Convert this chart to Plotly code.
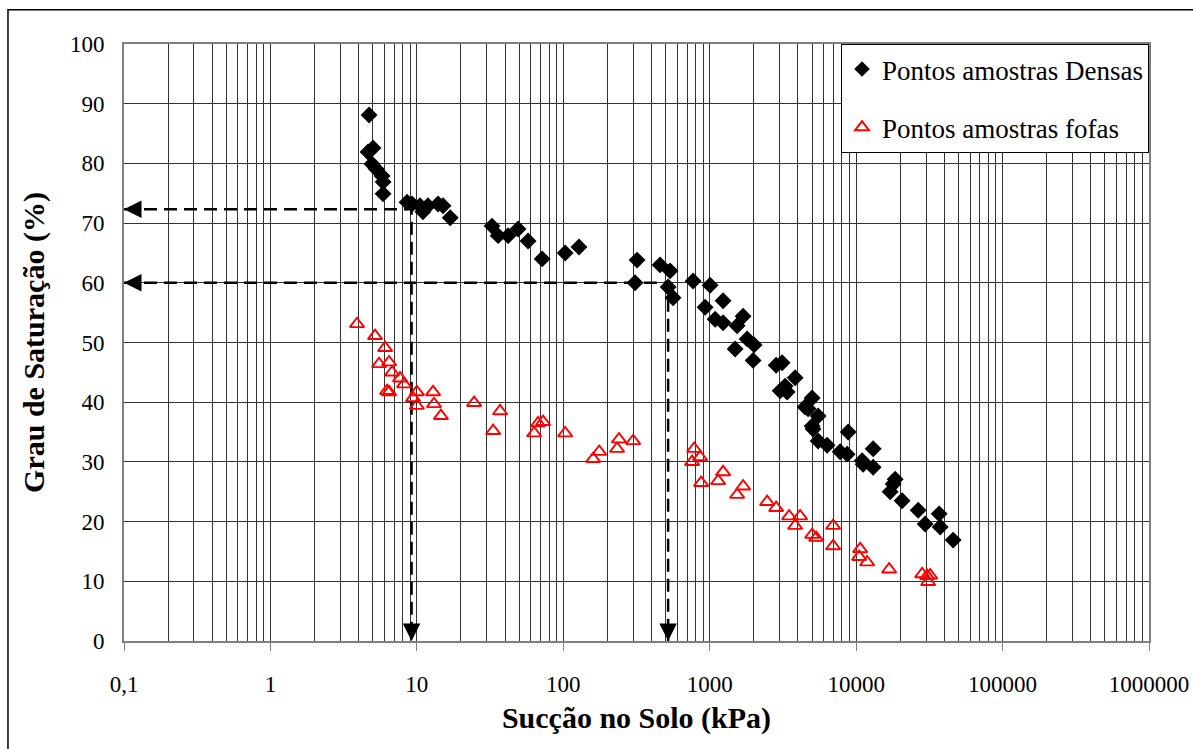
import math
import plotly.graph_objects as go

# Dense samples: soil suction (kPa) and degree of saturation (%)
suction_dense = [4.72, 5.02, 4.64, 4.94, 5.26, 5.79, 5.88, 5.88,
                 8.57, 9.27, 10.5, 11.0, 11.9, 13.96, 15.1, 16.9,
                 32.6, 35.9, 42.0, 49.1, 57.5, 71.7, 103, 128,
                 319, 309, 458, 536, 520, 562, 770, 1006, 1234, 930, 1089, 1234,
                 1691, 1539, 1801, 2011, 1491, 1979, 2842, 3123, 3831, 3273, 3026, 3379,
                 5006, 4483, 4700, 5503, 5006, 5080, 5503, 6338, 8820, 7777, 8680,
                 13070, 11160, 10990, 13070, 18470, 17070, 17890, 20610, 26520, 29600,
                 36900, 37490, 45980]
saturation_dense = [88.1, 82.6, 81.9, 79.9, 79.1, 77.9, 76.9, 74.9,
                    73.5, 73.2, 72.9, 71.9, 72.9, 73.2, 72.9, 70.9,
                    69.5, 67.9, 67.9, 69.0, 67.0, 64.0, 65.0, 66.0,
                    63.8, 60.0, 63.0, 62.0, 59.3, 57.5, 60.3, 59.6, 57.0, 55.9, 53.9, 53.3,
                    54.4, 52.8, 50.6, 49.6, 48.9, 47.0, 46.2, 46.6, 44.1, 42.7, 41.9, 41.7,
                    40.7, 39.2, 38.9, 37.7, 36.0, 35.5, 33.5, 32.8, 35.0, 31.7, 31.3,
                    32.2, 29.6, 30.2, 29.1, 27.1, 25.0, 26.3, 23.5, 21.9, 19.6,
                    21.3, 19.1, 16.9]

# Loose samples
suction_loose = [3.90, 5.18, 6.07, 5.52, 6.46, 6.77, 7.68, 8.18, 6.26, 6.46,
                 10.0, 9.42, 10.0, 12.9, 13.1, 14.6, 24.6, 37.0, 33.2,
                 63.2, 67.3, 72.8, 103, 160, 176, 233, 240, 300,
                 783, 860, 758, 874, 1234, 1141, 1691, 1539, 2466, 2842,
                 3486, 4144, 3831, 5006, 5333, 6964, 6964, 10650, 10480, 11890,
                 16800, 28240, 30540, 31030, 32030]
saturation_loose = [53.1, 51.1, 49.1, 46.4, 46.7, 45.0, 44.0, 43.0, 41.9, 41.7,
                    41.7, 40.7, 39.4, 41.7, 39.7, 37.7, 39.9, 38.5, 35.2,
                    34.8, 36.5, 36.7, 34.8, 30.5, 31.7, 32.2, 33.8, 33.5,
                    32.2, 30.8, 30.0, 26.5, 28.3, 26.8, 25.9, 24.5, 23.3, 22.3,
                    20.9, 20.9, 19.3, 17.8, 17.3, 19.3, 15.9, 15.4, 14.1, 13.2,
                    12.0, 11.2, 10.9, 9.9, 11.0]

x_tick_vals = [0.1, 1, 10, 100, 1000, 10000, 100000, 1000000]
x_tick_text = ["0,1", "1", "10", "100", "1000", "10000", "100000", "1000000"]
y_tick_vals = list(range(0, 101, 10))

# Reading guides: (suction, saturation) where the dashed lines turn
guide_suction = [9.2, 520]
guide_saturation = [72.3, 60.0]

minor_vals = [m * 10.0 ** k for k in range(-1, 6) for m in range(2, 10)]

FONT = "Liberation Serif"
GRID = "#333333"
FRAME = "#808080"

fig = go.Figure()

# dashed reading guides, drawn beneath the markers
for gx, gy in zip(guide_suction, guide_saturation):
    fig.add_trace(go.Scatter(
        x=[x_tick_vals[0], gx, gx], y=[gy, gy, 0],
        mode="lines", line=dict(color="black", width=2.5, dash="13px,7px"),
        showlegend=False, hoverinfo="skip"))

fig.add_trace(go.Scatter(
    x=suction_dense, y=saturation_dense, mode="markers",
    name="Pontos amostras Densas", legendgroup="dense",
    marker=dict(symbol="diamond", size=13, color="black", line=dict(width=0))))

fig.add_trace(go.Scatter(
    x=suction_loose, y=saturation_loose, mode="markers",
    name="Pontos amostras fofas", legendgroup="loose",
    marker=dict(symbol="triangle-up-open", size=12.5, color="#ff0000",
                line=dict(width=1.9, color="#ff0000"))))

# arrowheads at the ends of the guides
for gx, gy in zip(guide_suction, guide_saturation):
    fig.add_annotation(x=math.log10(x_tick_vals[0]), y=gy, ax=14, ay=0,
                       text="", showarrow=True, arrowhead=2, arrowsize=1.4,
                       arrowwidth=2.5, arrowcolor="black")
    fig.add_annotation(x=math.log10(gx), y=0, ax=0, ay=-14,
                       text="", showarrow=True, arrowhead=2, arrowsize=1.4,
                       arrowwidth=2.5, arrowcolor="black")

# outer frame of the chart
fig.add_shape(type="rect", xref="paper", yref="paper",
              x0=-0.1132, x1=1.046, y0=-0.195, y1=1.0574,
              line=dict(color="black", width=1.5), layer="below")

fig.update_layout(
    width=1193, height=749,
    margin=dict(l=124, r=44, t=44, b=108, autoexpand=False),
    paper_bgcolor="white", plot_bgcolor="white",
    font=dict(family=FONT, color="black"),
    showlegend=True,
    legend=dict(x=1, xanchor="right", y=1, yanchor="top",
                bgcolor="white", bordercolor="black", borderwidth=1,
                font=dict(family=FONT, size=27, color="black"),
                traceorder="grouped", tracegroupgap=20, itemsizing="constant"),
    xaxis=dict(
        type="log", range=[-1, 6],
        tickmode="array", tickvals=x_tick_vals, ticktext=x_tick_text,
        ticks="outside", ticklen=8, tickcolor=FRAME, tickwidth=1,
        tickfont=dict(family=FONT, size=23, color="black"),
        ticklabelstandoff=13,
        showgrid=True, gridcolor=GRID, gridwidth=1,
        minor=dict(tickmode="array", tickvals=minor_vals, showgrid=True,
                   gridcolor=GRID, gridwidth=1, ticks=""),
        showline=True, linecolor=FRAME, linewidth=2, mirror=True,
        zeroline=False,
        title=dict(text="Sucção no Solo (kPa)", standoff=11,
                   font=dict(family=FONT, size=30, weight="bold", color="black")),
    ),
    yaxis=dict(
        range=[0, 100], tickmode="array", tickvals=y_tick_vals,
        ticks="", ticklabelstandoff=13,
        tickfont=dict(family=FONT, size=23, color="black"),
        showgrid=True, gridcolor=GRID, gridwidth=1,
        showline=True, linecolor=FRAME, linewidth=2, mirror=True,
        zeroline=False,
        title=dict(text="Grau de Saturação (%)", standoff=16,
                   font=dict(family=FONT, size=30, weight="bold", color="black")),
    ),
)

fig.write_html("out.html")
